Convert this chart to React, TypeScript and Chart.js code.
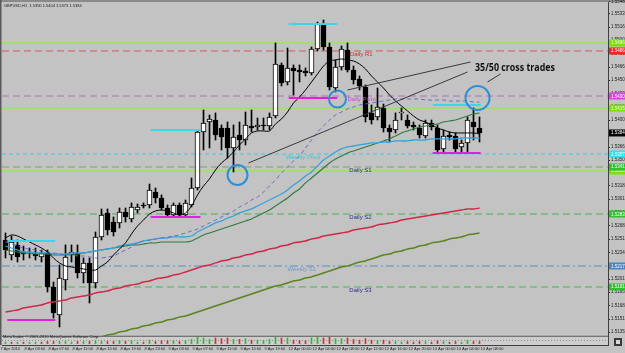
import React, { useEffect, useRef } from "react";
import { Chart, registerables } from "chart.js";

Chart.register(...registerables);

// ---------------- data ----------------
const symbol = "GBPUSD,H1";
const timeLabelIdx = [0, 4, 8, 12, 16, 20, 24, 28, 32, 36, 40, 44, 48, 52, 56, 60, 64, 68, 72, 76, 80];
const timeLabels = [
  "7 Apr 2010", "8 Apr 03:00", "8 Apr 07:00", "8 Apr 11:00", "8 Apr 15:00", "8 Apr 19:00",
  "8 Apr 23:00", "9 Apr 03:00", "9 Apr 07:00", "9 Apr 11:00", "9 Apr 15:00", "9 Apr 19:00",
  "12 Apr 00:00", "12 Apr 04:00", "12 Apr 08:00", "12 Apr 12:00", "12 Apr 16:00", "12 Apr 20:00",
  "13 Apr 00:00", "13 Apr 04:00", "13 Apr 08:00",
];

const opens = [1.52500,1.52313,1.52438,1.52350,1.52338,1.52325,1.52288,1.52338,1.51913,1.51563,
1.52000,1.52313,1.52338,1.52088,1.52213,1.51963,1.52538,1.52838,1.52725,1.52713,
1.52850,1.52763,1.52875,1.52938,1.52938,1.53100,1.53025,1.52900,1.52813,1.52938,
1.52813,1.52938,1.53150,1.53850,1.53975,1.54000,1.53900,1.53900,1.53650,1.53813,
1.53750,1.53925,1.53913,1.53938,1.53925,1.54050,1.54688,1.54475,1.54650,1.54625,
1.54613,1.54588,1.54888,1.55200,1.54913,1.54400,1.54663,1.54875,1.54625,1.54513,
1.54413,1.54088,1.54038,1.54150,1.53900,1.53875,1.54088,1.54000,1.53938,1.53900,
1.53800,1.53963,1.53900,1.53638,1.53813,1.53800,1.53663,1.53713,1.53975,1.53900];
const highs = [1.52588,1.52550,1.52500,1.52425,1.52400,1.52400,1.52375,1.52375,1.51975,1.52188,
1.52438,1.52438,1.52438,1.52275,1.52275,1.52600,1.52888,1.52888,1.52788,1.52900,
1.52900,1.52963,1.52950,1.52963,1.53200,1.53150,1.53063,1.52938,1.52963,1.52963,
1.53000,1.53275,1.53875,1.54125,1.54063,1.54088,1.53938,1.53975,1.53938,1.53975,
1.54100,1.54125,1.54025,1.54025,1.54088,1.54963,1.54713,1.54900,1.54688,1.54688,
1.54650,1.54913,1.55225,1.55250,1.54963,1.54750,1.54925,1.54963,1.54675,1.54550,
1.54438,1.54188,1.54400,1.54200,1.53938,1.54088,1.54150,1.54063,1.53975,1.53938,
1.54000,1.54000,1.53938,1.53875,1.53850,1.53838,1.53750,1.54038,1.54150,1.54038];
const lows = [1.52275,1.52250,1.52225,1.52250,1.52275,1.52250,1.52225,1.51850,1.51525,1.51413,
1.51875,1.52225,1.52025,1.51963,1.51713,1.51900,1.52500,1.52563,1.52550,1.52650,
1.52725,1.52725,1.52838,1.52900,1.52900,1.52963,1.52875,1.52788,1.52788,1.52788,
1.52788,1.52913,1.53125,1.53625,1.53650,1.53750,1.53625,1.53525,1.53350,1.53625,
1.53688,1.53850,1.53875,1.53875,1.53875,1.54025,1.54425,1.54438,1.54313,1.54475,
1.54550,1.54563,1.54863,1.54875,1.54375,1.54350,1.54625,1.54600,1.54450,1.54375,
1.53975,1.53950,1.54000,1.53850,1.53725,1.53838,1.54000,1.53900,1.53875,1.53775,
1.53775,1.53875,1.53588,1.53600,1.53750,1.53600,1.53600,1.53588,1.53750,1.53725];
const closes = [1.52375,1.52475,1.52288,1.52325,1.52350,1.52300,1.52338,1.51913,1.51588,1.52025,
1.52288,1.52350,1.52088,1.52213,1.51963,1.52538,1.52813,1.52625,1.52600,1.52850,
1.52788,1.52913,1.52913,1.52925,1.53125,1.53025,1.52900,1.52813,1.52938,1.52813,
1.52963,1.53150,1.53850,1.53963,1.54013,1.53813,1.53788,1.53650,1.53788,1.53750,
1.53938,1.53900,1.53938,1.53925,1.54038,1.54700,1.54463,1.54650,1.54613,1.54600,
1.54588,1.54888,1.55200,1.54913,1.54413,1.54663,1.54888,1.54625,1.54500,1.54425,
1.54038,1.54000,1.54163,1.53900,1.53850,1.54000,1.54100,1.53925,1.53913,1.53813,
1.53963,1.53913,1.53625,1.53800,1.53788,1.53638,1.53713,1.54000,1.53913,1.53838];

const maBlack = [1.52525,1.52563,1.52550,1.52513,1.52475,1.52438,1.52400,1.52350,1.52275,1.52213,
1.52175,1.52163,1.52150,1.52138,1.52125,1.52125,1.52175,1.52225,1.52313,1.52388,
1.52463,1.52575,1.52675,1.52750,1.52825,1.52863,1.52875,1.52863,1.52838,1.52813,
1.52838,1.52925,1.53063,1.53175,1.53263,1.53375,1.53463,1.53525,1.53600,1.53688,
1.53763,1.53838,1.53863,1.53863,1.53863,1.53950,1.54013,1.54100,1.54213,1.54288,
1.54375,1.54475,1.54575,1.54675,1.54738,1.54750,1.54763,1.54750,1.54738,1.54700,
1.54638,1.54550,1.54475,1.54400,1.54313,1.54238,1.54175,1.54113,1.54050,1.54000,
1.53975,1.53938,1.53900,1.53875,1.53850,1.53838,1.53838,1.53838,1.53838,1.53825];
const maBlue = [1.52425,1.52400,1.52375,1.52350,1.52350,1.52338,1.52338,1.52338,1.52325,1.52325,
1.52325,1.52338,1.52338,1.52338,1.52350,1.52363,1.52375,1.52388,1.52400,1.52425,
1.52438,1.52450,1.52463,1.52488,1.52500,1.52513,1.52525,1.52525,1.52538,1.52538,
1.52538,1.52550,1.52600,1.52638,1.52675,1.52713,1.52738,1.52775,1.52800,1.52838,
1.52863,1.52888,1.52925,1.52963,1.53000,1.53038,1.53075,1.53125,1.53188,1.53238,
1.53300,1.53350,1.53425,1.53500,1.53550,1.53600,1.53638,1.53663,1.53675,1.53688,
1.53700,1.53713,1.53713,1.53725,1.53725,1.53738,1.53738,1.53738,1.53750,1.53750,
1.53750,1.53763,1.53763,1.53763,1.53763,1.53763,1.53775,1.53775,1.53775,1.53775];
const maGreen = [1.52375,1.52363,1.52350,1.52338,1.52338,1.52325,1.52325,1.52325,1.52313,1.52313,
1.52313,1.52325,1.52325,1.52338,1.52350,1.52363,1.52375,1.52388,1.52400,1.52413,
1.52425,1.52438,1.52438,1.52450,1.52463,1.52463,1.52475,1.52475,1.52475,1.52475,
1.52475,1.52488,1.52525,1.52563,1.52588,1.52613,1.52638,1.52663,1.52688,1.52713,
1.52738,1.52763,1.52800,1.52838,1.52875,1.52925,1.52975,1.53025,1.53088,1.53138,
1.53213,1.53275,1.53338,1.53400,1.53463,1.53513,1.53550,1.53588,1.53613,1.53638,
1.53663,1.53688,1.53713,1.53738,1.53763,1.53800,1.53838,1.53863,1.53888,1.53913,
1.53925,1.53938,1.53950,1.53975,1.53988,1.54000,1.54025,1.54050,1.54075,1.54088];
const maPurple = [1.52475,1.52450,1.52425,1.52400,1.52388,1.52375,1.52363,1.52350,1.52338,1.52325,
1.52313,1.52313,1.52300,1.52300,1.52288,1.52275,1.52275,1.52288,1.52300,1.52338,
1.52375,1.52413,1.52463,1.52488,1.52500,1.52513,1.52525,1.52538,1.52550,1.52563,
1.52588,1.52613,1.52638,1.52675,1.52713,1.52750,1.52788,1.52825,1.52863,1.52913,
1.52950,1.53000,1.53038,1.53100,1.53175,1.53250,1.53338,1.53413,1.53488,1.53550,
1.53650,1.53750,1.53850,1.53925,1.54000,1.54063,1.54100,1.54138,1.54163,1.54188,
1.54200,1.54213,1.54225,1.54238,1.54250,1.54263,1.54263,1.54263,1.54263,1.54263,
1.54250,1.54250,1.54250,1.54250,1.54238,1.54238,1.54238,1.54238,1.54225,1.54225];
const maRed = [1.51600,1.51613,1.51625,1.51650,1.51663,1.51675,1.51688,1.51713,1.51725,1.51738,
1.51750,1.51775,1.51788,1.51800,1.51813,1.51838,1.51850,1.51863,1.51888,1.51900,
1.51925,1.51938,1.51950,1.51975,1.51988,1.52013,1.52025,1.52038,1.52063,1.52075,
1.52100,1.52125,1.52150,1.52175,1.52188,1.52213,1.52238,1.52250,1.52275,1.52288,
1.52313,1.52325,1.52350,1.52363,1.52388,1.52400,1.52425,1.52438,1.52463,1.52475,
1.52488,1.52513,1.52525,1.52550,1.52563,1.52575,1.52588,1.52600,1.52625,1.52638,
1.52650,1.52663,1.52688,1.52700,1.52713,1.52725,1.52750,1.52763,1.52775,1.52788,
1.52800,1.52813,1.52825,1.52838,1.52850,1.52863,1.52875,1.52888,1.52888,1.52900];
const maOlive = [1.51000,1.51025,1.51038,1.51063,1.51075,1.51100,1.51113,1.51138,1.51150,1.51175,
1.51188,1.51200,1.51225,1.51238,1.51263,1.51275,1.51288,1.51313,1.51325,1.51350,
1.51363,1.51388,1.51400,1.51425,1.51438,1.51463,1.51475,1.51500,1.51513,1.51538,
1.51550,1.51575,1.51600,1.51625,1.51650,1.51675,1.51700,1.51725,1.51750,1.51775,
1.51800,1.51825,1.51850,1.51875,1.51900,1.51925,1.51938,1.51963,1.51988,1.52000,
1.52025,1.52038,1.52063,1.52088,1.52113,1.52138,1.52163,1.52175,1.52200,1.52225,
1.52238,1.52263,1.52288,1.52313,1.52325,1.52350,1.52363,1.52388,1.52400,1.52425,
1.52438,1.52463,1.52475,1.52488,1.52513,1.52525,1.52538,1.52563,1.52575,1.52588];

const stripValues = [0.2,-0.2,0.2,-0.2,0.2,0.2,-0.2,-0.3,-0.3,0.3,
0.3,0.2,-0.3,0.3,-0.3,0.4,0.3,-0.3,-0.3,0.4,
-0.3,0.4,0.2,-0.2,0.5,-0.3,-0.4,-0.4,0.4,-0.3,
0.4,0.6,0.9,0.8,0.6,-0.8,-0.7,-0.8,0.6,-0.6,
0.7,-0.5,0.5,0.4,0.6,0.9,-0.8,0.8,-0.5,-0.4,
-0.4,0.8,0.9,-0.8,-0.9,0.7,0.7,-0.8,-0.6,-0.5,
-0.7,-0.5,0.4,-0.5,-0.3,0.3,0.2,-0.3,-0.2,-0.3,
0.3,-0.2,-0.4,0.3,-0.2,-0.3,0.2,0.5,-0.3,-0.3];

const greenLevels = [1.54963, 1.54150, 1.53363];
const pivotNames = ["Daily R1", "Daily Pivot", "Weekly Pivot", "Daily S1", "Daily S2", "Weekly S1", "Daily S3"];
const pivotPrices = [1.54863, 1.54300, 1.53575, 1.53413, 1.52825, 1.52175, 1.51913];
const pivotLabelX = [57.4, 57.0, 46.7, 57.3, 57.3, 47.0, 57.3];

const resistSegPrices = [1.52488, 1.53875, 1.55200, 1.54188];
const supportSegPrices = [1.51500, 1.52788, 1.54275, 1.53588];
const segStart = [0.3, 24.2, 47.2, 71.2];
const segEnd = [8.3, 32.5, 55.3, 79.2];

const circleX = [38.67, 55.33, 78.67];
const circleY = [1.53313, 1.54263, 1.54275];

const pointerFromX = [57.0, 40.5, 80.33];
const pointerFromY = [1.54375, 1.53463, 1.54475];
const pointerToX = [77.5, 77.0, 82.5];
const pointerToY = [1.54725, 1.54600, 1.54575];

const noteText = "35/50 cross trades";
const noteX = 78.25;
const noteY = 1.54650;

const priceTicks = [1.5135,1.5151,1.5168,1.5185,1.5201,1.5218,1.5234,1.5251,1.5268,1.5284,1.5301,1.5318,1.5334,
1.5350,1.5366,1.5384,1.5400,1.5416,1.5433,1.5450,1.5466,1.5483,1.5500,1.5516,1.5533,1.5548];

// ---------------- styles ----------------
const X_MIN = -0.5833;
const X_MAX = 100.4167;
const Y_MIN = 1.511875;
const Y_MAX = 1.55475;
const AREA_LEFT = 2;
const AREA_RIGHT = 608;
const FONT = "'Liberation Sans', 'DejaVu Sans', sans-serif";
const pivotLineColors = ["#d05a5a", "#b070b0", "#3fc8dc", "#72a872", "#4fae4f", "#5a8fc2", "#4fae4f"];
const pivotDash = [[7, 4], [7, 4], [4, 3], [7, 4], [7, 4], [8, 3, 2, 3], [7, 4]];
const pivotTextColors = ["#d02c2c", "#d63cd6", "#3cc4dc", "#2c2c8c", "#2c2c8c", "#6a98d0", "#2c2c8c"];
const pivotBoxColors = ["#ff2020", "#e040e0", "#30e0f0", "#30c030", "#30c030", "#4a86c0", "#30c030"];
const circleRadius = [10, 8.5, 12];

const pts = (arr: number[]) => arr.map((v, i) => ({ x: i, y: v }));
const hline = (p: number) => [{ x: X_MIN, y: p }, { x: X_MAX, y: p }];

const areaFixPlugin = {
  id: "mtAreaFix",
  afterLayout(chart: any) {
    const xs = chart.scales.x;
    if (!xs) return;
    chart.chartArea.left = AREA_LEFT;
    chart.chartArea.right = AREA_RIGHT;
    chart.chartArea.width = AREA_RIGHT - AREA_LEFT;
    xs.left = AREA_LEFT;
    xs.right = AREA_RIGHT;
    xs.width = AREA_RIGHT - AREA_LEFT;
    xs.configure();
  },
};

const bgPlugin = {
  id: "mtBg",
  beforeDraw(chart: any) {
    const { ctx, width, height } = chart;
    ctx.save();
    ctx.fillStyle = "#c3c3c3";
    ctx.fillRect(0, 0, width, height);
    ctx.fillStyle = "#8a8a8a";
    ctx.fillRect(0, 0, width, 2);
    ctx.fillStyle = "#5a5a5a";
    ctx.fillRect(0, 0, 1.5, height - 8);
    ctx.restore();
  },
};

const textPlugin = {
  id: "mtText",
  afterDatasetsDraw(chart: any) {
    const { ctx } = chart;
    const xs = chart.scales.x;
    const ys = chart.scales.y;
    ctx.save();
    ctx.textBaseline = "top";
    ctx.textAlign = "left";
    ctx.font = `6px ${FONT}`;
    pivotNames.forEach((n, i) => {
      ctx.fillStyle = pivotTextColors[i];
      ctx.fillText(n, xs.getPixelForValue(pivotLabelX[i]), ys.getPixelForValue(pivotPrices[i]) + 0.5);
    });
    ctx.font = `bold 11px 'Open Sans', 'DejaVu Sans', sans-serif`;
    ctx.fillStyle = "#111111";
    ctx.textBaseline = "middle";
    ctx.fillText(noteText, xs.getPixelForValue(noteX), ys.getPixelForValue(noteY), 80);
    const last = closes.length - 1;
    ctx.font = `4px ${FONT}`;
    ctx.fillStyle = "#1c1c1c";
    ctx.textBaseline = "top";
    ctx.fillText(
      `${symbol}  ${opens[last].toFixed(4)} ${highs[last].toFixed(4)} ${lows[last].toFixed(4)} ${closes[last].toFixed(4)}`,
      4, 3.5
    );
    ctx.fillText("MetaTrader, \u00a9 2001-2010 MetaQuotes Software Corp.", 3, 334.5);
    ctx.restore();
  },
};

const axisBoxPlugin = {
  id: "mtAxisBoxes",
  afterDraw(chart: any) {
    const { ctx } = chart;
    const ys = chart.scales.y;
    const last = closes.length - 1;
    const boxes = [
      ...greenLevels.map((p) => ({ p, bg: "#7ee000", fg: "#eaffea" })),
      ...pivotPrices.map((p, i) => ({ p, bg: pivotBoxColors[i], fg: "#ffffff" })),
      { p: closes[last], bg: "#000000", fg: "#ffffff" },
    ];
    ctx.save();
    ctx.font = `4.5px ${FONT}`;
    ctx.textBaseline = "middle";
    ctx.textAlign = "left";
    boxes.forEach((b) => {
      const y = ys.getPixelForValue(b.p);
      ctx.fillStyle = b.bg;
      ctx.fillRect(ys.left + 1, y - 3.5, 17, 7);
      ctx.fillStyle = b.fg;
      ctx.fillText(b.p.toFixed(4), ys.left + 3, y + 0.3);
    });
    ctx.fillStyle = "#3a3a3a";
    ctx.fillRect(614, 338, 8, 8);
    ctx.fillStyle = "#d8d8d8";
    ctx.fillRect(616, 340, 4, 4);
    ctx.restore();
  },
};

const zeroPad = (s: any) => {
  s.paddingTop = 0;
  s.paddingBottom = 0;
  s.paddingLeft = 0;
  s.paddingRight = 0;
};

export default function App() {
  const ref = useRef<HTMLCanvasElement | null>(null);

  useEffect(() => {
    if (!ref.current) return;
    const bodyColors = closes.map((c, i) => (c >= opens[i] ? "#ffffff" : "#000000"));
    const datasets: any[] = [];

    datasets.push({
      type: "bar", yAxisID: "y2", grouped: false, order: 1, barThickness: 1,
      data: stripValues.map((v, i) => ({ x: i, y: [0, Math.abs(v)] })),
      backgroundColor: stripValues.map((v) => (v >= 0 ? "#22c022" : "#e02828")),
      borderSkipped: false,
    });
    datasets.push({
      type: "line", yAxisID: "y2", order: 2, data: hline(0.45), borderColor: "#8a8a8a",
      borderWidth: 1, borderDash: [1, 2], pointRadius: 0,
    });
    datasets.push({
      type: "line", yAxisID: "y2", order: 3, data: hline(1.05), borderColor: "#5a5a5a",
      borderWidth: 1, pointRadius: 0, fill: "start", backgroundColor: "#cdcdcd",
    });

    datasets.push({
      type: "line", order: 10, showLine: false,
      data: circleX.map((x, i) => ({ x, y: circleY[i] })),
      pointRadius: circleRadius, pointBorderWidth: 2, pointBorderColor: "#2d8ed6",
      pointBackgroundColor: "rgba(0,0,0,0)",
    });
    pointerFromX.forEach((fx, i) => {
      datasets.push({
        type: "line", order: 12, borderColor: "#3a3a3a", borderWidth: 1, pointRadius: 0,
        data: [{ x: fx, y: pointerFromY[i] }, { x: pointerToX[i], y: pointerToY[i] }],
      });
    });
    segStart.forEach((s, i) => {
      datasets.push({
        type: "line", order: 15, borderColor: "#38d8ec", borderWidth: 2, pointRadius: 0,
        data: [{ x: s, y: resistSegPrices[i] }, { x: segEnd[i], y: resistSegPrices[i] }],
      });
      datasets.push({
        type: "line", order: 15, borderColor: "#e020e0", borderWidth: 2, pointRadius: 0,
        data: [{ x: s, y: supportSegPrices[i] }, { x: segEnd[i], y: supportSegPrices[i] }],
      });
    });
    const ma = (arr: number[], color: string, width: number, order: number, dash?: number[]) => ({
      type: "line", order, data: pts(arr), borderColor: color, borderWidth: width,
      pointRadius: 0, tension: 0.3, borderDash: dash || [],
    });
    datasets.push(ma(maBlack, "#000000", 1, 20));
    datasets.push(ma(maPurple, "#6a6ac8", 1, 21, [4, 3]));
    datasets.push(ma(maBlue, "#34a2dc", 1.3, 22));
    datasets.push(ma(maGreen, "#2e7a40", 1.1, 23));
    datasets.push(ma(maRed, "#d0284a", 1.4, 24));
    datasets.push(ma(maOlive, "#5c8420", 1.6, 25));

    datasets.push({
      type: "bar", grouped: false, order: 30, barThickness: 5, minBarLength: 1,
      data: opens.map((o, i) => ({ x: i, y: [o, closes[i]] })),
      backgroundColor: bodyColors, borderColor: "#000000", borderWidth: 1, borderSkipped: false,
    });
    datasets.push({
      type: "bar", grouped: false, order: 31, barThickness: 1,
      data: lows.map((l, i) => ({ x: i, y: [l, highs[i]] })),
      backgroundColor: "#000000", borderSkipped: false,
    });

    greenLevels.forEach((p) => {
      datasets.push({
        type: "line", order: 40, data: hline(p), borderColor: "#a2de70", borderWidth: 2, pointRadius: 0,
      });
    });
    pivotPrices.forEach((p, i) => {
      datasets.push({
        type: "line", order: 41, data: hline(p), borderColor: pivotLineColors[i], borderWidth: 1,
        borderDash: pivotDash[i], pointRadius: 0,
      });
    });

    const chart = new Chart(ref.current, {
      type: "bar",
      data: { datasets },
      options: {
        animation: false,
        responsive: false,
        devicePixelRatio: 1,
        layout: { autoPadding: false, padding: { left: 2, top: 2, right: 0, bottom: 0 } },
        plugins: { legend: { display: false }, tooltip: { enabled: false } },
        scales: {
          x: {
            type: "linear", min: X_MIN, max: X_MAX, offset: false,
            grid: { display: false, drawTicks: false, offset: false },
            border: { display: true, color: "#404040" },
            afterBuildTicks: (s: any) => { s.ticks = timeLabelIdx.map((v) => ({ value: v })); },
            afterFit: (s: any) => { s.height = 8; zeroPad(s); },
            ticks: {
              autoSkip: false, maxRotation: 0, minRotation: 0, align: "start", labelOffset: -5,
              padding: 1, color: "#1c1c1c", font: { size: 4, family: FONT },
              callback: (v: any) => {
                const k = timeLabelIdx.indexOf(Number(v));
                return k >= 0 ? timeLabels[k] : "";
              },
            },
          },
          y: {
            type: "linear", position: "right", min: Y_MIN, max: Y_MAX,
            grid: { display: true, drawOnChartArea: false, drawTicks: true, tickLength: 2, color: "#303030" },
            border: { display: true, color: "#404040" },
            afterBuildTicks: (s: any) => { s.ticks = priceTicks.map((v) => ({ value: v })); },
            afterFit: (s: any) => { s.width = 17; zeroPad(s); },
            ticks: {
              autoSkip: false, padding: 1, color: "#1c1c1c", font: { size: 4.5, family: FONT },
              callback: (v: any) => Number(v).toFixed(4),
            },
          },
          y2: { type: "linear", display: false, min: -0.2, max: 48.8 },
        },
      } as any,
      plugins: [areaFixPlugin, bgPlugin, textPlugin, axisBoxPlugin],
    });
    return () => chart.destroy();
  }, []);

  return (
    <div style={{ position: "absolute", left: 0, top: 0, width: 625, height: 353 }}>
      <canvas ref={ref} width={625} height={353} style={{ display: "block" }} />
    </div>
  );
}
